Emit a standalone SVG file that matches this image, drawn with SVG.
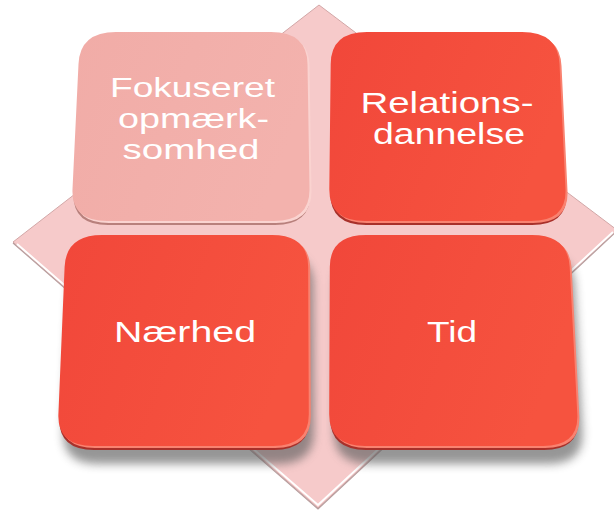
<svg xmlns="http://www.w3.org/2000/svg" width="614" height="510" viewBox="0 0 614 510">
<defs>
<linearGradient id="red" x1="0" y1="0" x2="1" y2="0.3"><stop offset="0" stop-color="#F1473A"/><stop offset="1" stop-color="#F6533F"/></linearGradient>
<linearGradient id="pink" x1="0" y1="0" x2="1" y2="0.3"><stop offset="0" stop-color="#F1ACA7"/><stop offset="1" stop-color="#F3B2AD"/></linearGradient>
<filter id="blur" x="-20%" y="-20%" width="140%" height="160%"><feGaussianBlur stdDeviation="5"/></filter>
<path id="p-tl" d="M 117,33 H 272 Q 308,33 308.5,65 L 310.5,190 Q 311,222 275,222 H 108 Q 72,222 73.5,190 L 79.5,65 Q 81,33 117,33 Z"/>
<path id="p-tr" d="M 368,33 H 523 Q 559,33 560.5,65 L 566.5,190 Q 568,222 532,222 H 366 Q 330,222 330.3,190 L 331.7,65 Q 332,33 368,33 Z"/>
<path id="p-bl" d="M 103,236 H 273 Q 309,236 309.2,268 L 309.8,415 Q 310,447 274,447 H 94 Q 58,447 59.4,415 L 65.6,268 Q 67,236 103,236 Z"/>
<path id="p-br" d="M 367,236 H 533 Q 569,236 570.7,268 L 578.3,415 Q 580,447 544,447 H 366 Q 330,447 330.2,415 L 330.8,268 Q 331,236 367,236 Z"/>
</defs>
<style>
.lbl{font-family:"Liberation Sans",Arial,sans-serif;fill:#FFFFFF;text-anchor:middle}
.red .dark{fill:#A8302A}
.red .light{fill:#F98270}
.red .face{fill:url(#red)}
.pink .dark{fill:#B8807C}
.pink .light{fill:#FAD3D0}
.pink .face{fill:url(#pink)}
.shadow{fill:#5E5E5E;opacity:0.65;filter:url(#blur)}
</style>
<rect width="614" height="510" fill="#FFFFFF"/>
<g id="background">
<polygon points="319,5 617,230 318,508 13,242" fill="#F6CACA" stroke="#D2A7A7" stroke-width="1"/>
<polyline points="13,243 318,509 617,231" fill="none" stroke="#B89D9D" stroke-width="1.2"/>
<polyline points="17,244 318,505 613,232" fill="none" stroke="#FFFFFF" stroke-width="2"/>
</g>
<g id="shadows">
<use href="#p-bl" class="shadow" transform="translate(4,17)"/>
<use href="#p-br" class="shadow" transform="translate(4,17)"/>
</g>
<g id="connectors"/>
<g id="node-fokuseret" class="pink">
<use href="#p-tl" class="dark" transform="translate(0,3)"/>
<use href="#p-tl" class="light" transform="translate(1,1)"/>
<use href="#p-tl" class="face" transform="translate(-1,-1)"/>
<text class="lbl" font-size="27.5" x="192.5" y="97.3" textLength="165" lengthAdjust="spacingAndGlyphs">Fokuseret</text>
<text class="lbl" font-size="27.5" x="193.5" y="128.3" textLength="151" lengthAdjust="spacingAndGlyphs">opmærk-</text>
<text class="lbl" font-size="27.5" x="191" y="159" textLength="137" lengthAdjust="spacingAndGlyphs">somhed</text>
</g>
<g id="node-relationsdannelse" class="red">
<use href="#p-tr" class="dark" transform="translate(0,3)"/>
<use href="#p-tr" class="light" transform="translate(1,1)"/>
<use href="#p-tr" class="face" transform="translate(-1,-1)"/>
<text class="lbl" font-size="30" x="447" y="113.3" textLength="173" lengthAdjust="spacingAndGlyphs">Relations-</text>
<text class="lbl" font-size="30" x="449" y="144" textLength="152" lengthAdjust="spacingAndGlyphs">dannelse</text>
</g>
<g id="node-naerhed" class="red">
<use href="#p-bl" class="dark" transform="translate(0,3)"/>
<use href="#p-bl" class="light" transform="translate(1,1)"/>
<use href="#p-bl" class="face" transform="translate(-1,-1)"/>
<text class="lbl" font-size="30" x="185" y="341.7" textLength="142" lengthAdjust="spacingAndGlyphs">Nærhed</text>
</g>
<g id="node-tid" class="red">
<use href="#p-br" class="dark" transform="translate(0,3)"/>
<use href="#p-br" class="light" transform="translate(1,1)"/>
<use href="#p-br" class="face" transform="translate(-1,-1)"/>
<text class="lbl" font-size="30" x="452" y="341.7" textLength="50" lengthAdjust="spacingAndGlyphs">Tid</text>
</g>
</svg>
